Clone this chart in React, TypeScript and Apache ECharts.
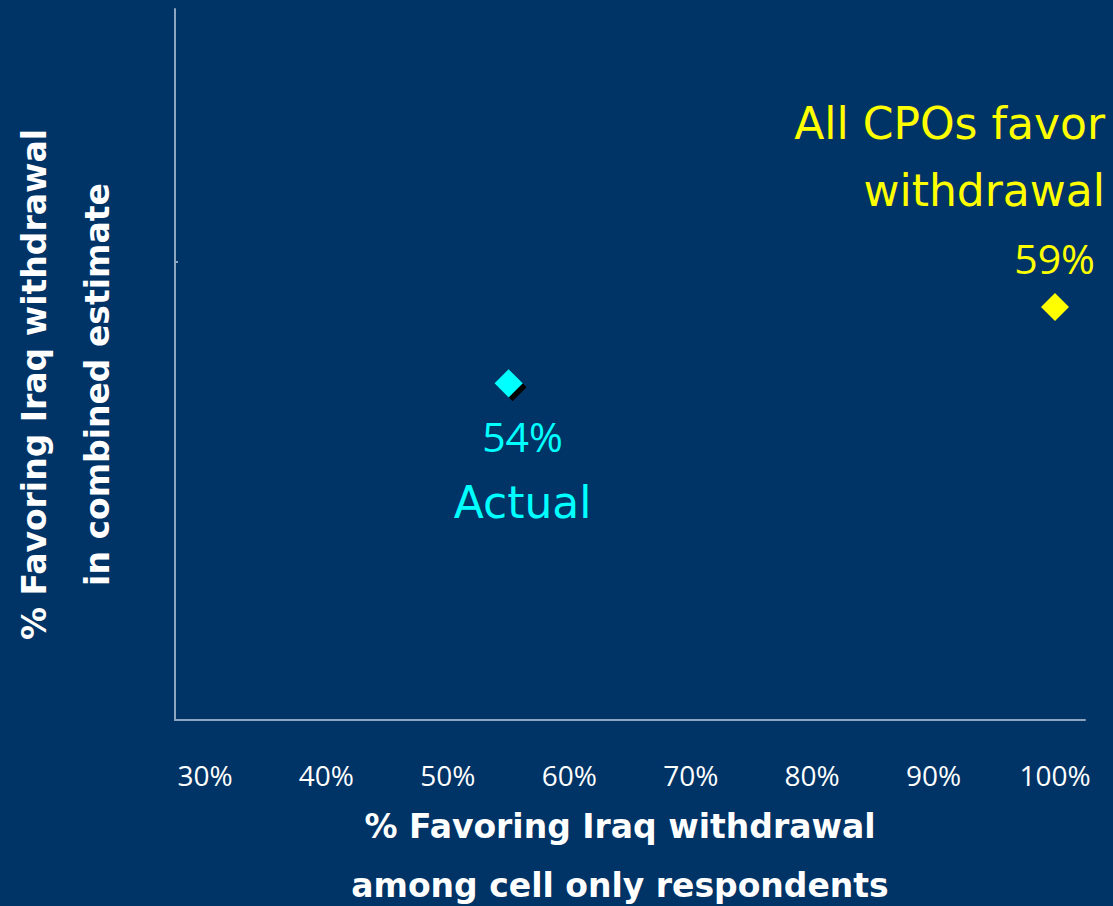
import React, { useEffect, useRef } from "react";
import * as echarts from "echarts";

const xTickValues = [30, 40, 50, 60, 70, 80, 90, 100];
const yTickValues = [62];
const actualPoint = [55, 54];
const cpoPoint = [100, 59];
const actualLabel = ["54%", "Actual"];
const cpoLabel = ["All CPOs favor", "withdrawal", "59%"];
const xTitle = ["% Favoring Iraq withdrawal", "among cell only respondents"];
const yTitle = ["% Favoring Iraq withdrawal", "in combined estimate"];

const WORD_FONT = "DejaVu Sans";
const NUM_FONT = "Open Sans";
const BG = "#003366";
const AXIS = "#8ea5bf";
const CYAN = "#00ffff";
const YELLOW = "#ffff00";

export default function App() {
  const ref = useRef<HTMLDivElement>(null);
  useEffect(() => {
    document.body.style.margin = "0";
    const chart = echarts.init(ref.current!, null, { renderer: "svg" });
    chart.setOption({
      animation: false,
      backgroundColor: BG,
      grid: { left: 175, right: 28, top: 9, bottom: 186, containLabel: false, outerBoundsMode: "none" },
      xAxis: {
        type: "value",
        min: 27.53,
        max: 102.47,
        name: xTitle.join("\n"),
        nameLocation: "middle",
        nameGap: 77,
        nameTextStyle: {
          color: "#ffffff",
          fontFamily: WORD_FONT,
          fontWeight: "bold",
          fontSize: 33,
          lineHeight: 59,
          padding: [0, 20, 0, 0],
        },
        axisLine: { show: true, lineStyle: { color: AXIS, width: 2 } },
        axisTick: { show: false },
        splitLine: { show: false },
        axisLabel: {
          customValues: xTickValues,
          formatter: (v: number) => `${v}%`,
          color: "#ffffff",
          fontFamily: NUM_FONT,
          fontSize: 28,
          margin: 41,
        },
      },
      yAxis: {
        type: "value",
        min: 31.85,
        max: 78.6,
        name: yTitle.join("\n"),
        nameLocation: "middle",
        nameRotate: 90,
        nameGap: 46,
        nameTextStyle: {
          color: "#ffffff",
          fontFamily: WORD_FONT,
          fontWeight: "bold",
          fontSize: 33,
          lineHeight: 63,
          padding: [0, 40, 0, 0],
        },
        axisLine: { show: true, lineStyle: { color: AXIS, width: 2 } },
        axisTick: { show: true, customValues: yTickValues, length: 3, inside: true, lineStyle: { color: AXIS, width: 2 } },
        splitLine: { show: false },
        axisLabel: { show: false },
      },
      series: [
        {
          type: "scatter",
          symbol: "diamond",
          symbolSize: 28,
          data: [actualPoint],
          itemStyle: { color: CYAN, opacity: 1, shadowColor: "#000000", shadowOffsetX: 4, shadowOffsetY: 4, shadowBlur: 0 },
          label: {
            show: true,
            position: "bottom",
            distance: 6,
            offset: [14, 0],
            opacity: 1,
            formatter: `{n|${actualLabel[0]}}\n{w|${actualLabel[1]}}`,
            align: "center",
            rich: {
              n: { color: CYAN, fontFamily: NUM_FONT, fontSize: 41, lineHeight: 66, align: "center" },
              w: { color: CYAN, fontFamily: WORD_FONT, fontSize: 44, lineHeight: 66, align: "center" },
            },
          },
        },
        {
          type: "scatter",
          symbol: "diamond",
          symbolSize: 28,
          data: [cpoPoint],
          itemStyle: { color: YELLOW, opacity: 1 },
          label: {
            show: true,
            position: "top",
            distance: 2,
            offset: [50, 0],
            opacity: 1,
            formatter: `{a|${cpoLabel[0]}}\n{a|${cpoLabel[1]}}\n{b|${cpoLabel[2]}}`,
            align: "right",
            rich: {
              a: { color: YELLOW, fontFamily: WORD_FONT, fontSize: 44, lineHeight: 67, align: "right" },
              b: { color: YELLOW, fontFamily: NUM_FONT, fontSize: 41, lineHeight: 67, align: "right", padding: [0, 10, 0, 0] },
            },
          },
        },
      ],
    });
    return () => chart.dispose();
  }, []);
  return <div ref={ref} style={{ width: 1113, height: 906 }} />;
}
